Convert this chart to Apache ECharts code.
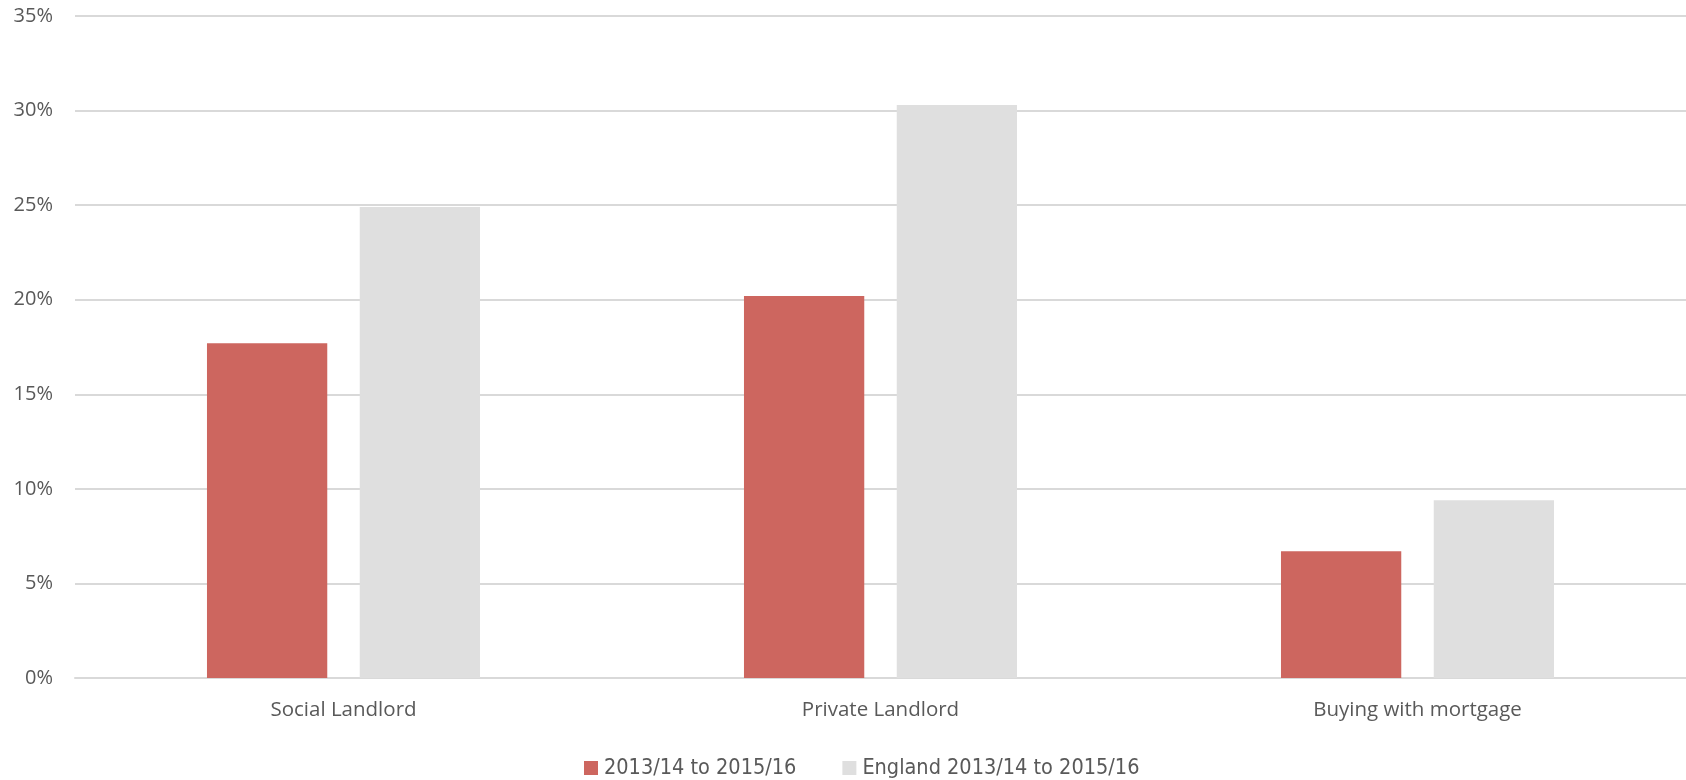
<!DOCTYPE html>
<html>
<head>
<meta charset="utf-8">
<script src="https://cdn.jsdelivr.net/npm/echarts@6/dist/echarts.min.js"></script>
<style>
  html, body { margin: 0; padding: 0; background: #fff; }
  #chart { width: 1686px; height: 780px; }
</style>
</head>
<body>
<div id="chart"></div>
<script>
// Tenure categories and the share (%) for each series
const categories = ['Social Landlord', 'Private Landlord', 'Buying with mortgage'];
const localShare = [17.7, 20.2, 6.7];
const englandShare = [24.9, 30.3, 9.4];
const seriesNames = ['2013/14 to 2015/16', 'England 2013/14 to 2015/16'];

const chart = echarts.init(document.getElementById('chart'));
const textColor = '#595959';
const gridColor = '#D9D9D9';

chart.setOption({
  animation: false,
  backgroundColor: '#ffffff',
  grid: { left: 75, right: 0, top: 16, bottom: 102, containLabel: false },
  legend: {
    data: seriesNames,
    left: 579,
    top: 752,
    itemWidth: 14,
    itemHeight: 14,
    itemGap: 46,
    icon: 'rect',
    textStyle: { color: textColor, fontSize: 21.5, fontFamily: 'Liberation Sans Narrow, DejaVu Sans Condensed, sans-serif', padding: [0, 0, 0, 1] }
  },
  xAxis: {
    type: 'category',
    data: categories,
    axisLine: { lineStyle: { color: gridColor, width: 2 } },
    axisTick: { show: false },
    axisLabel: { color: textColor, fontSize: 20.5, fontFamily: 'Open Sans, sans-serif', margin: 22 }
  },
  yAxis: {
    type: 'value',
    min: 0,
    max: 35,
    interval: 5,
    axisLine: { show: false },
    axisTick: { show: false },
    splitLine: { lineStyle: { color: gridColor, width: 2 } },
    axisLabel: { color: textColor, fontSize: 20, fontFamily: 'Open Sans, sans-serif', margin: 22, formatter: '{value}%' }
  },
  series: [
    {
      name: seriesNames[0],
      type: 'bar',
      data: localShare,
      barWidth: '22.4%',
      barGap: '27%',
      itemStyle: { color: '#CD665F' }
    },
    {
      name: seriesNames[1],
      type: 'bar',
      data: englandShare,
      barWidth: '22.4%',
      itemStyle: { color: '#DFDFDF' }
    }
  ]
});
</script>
</body>
</html>
